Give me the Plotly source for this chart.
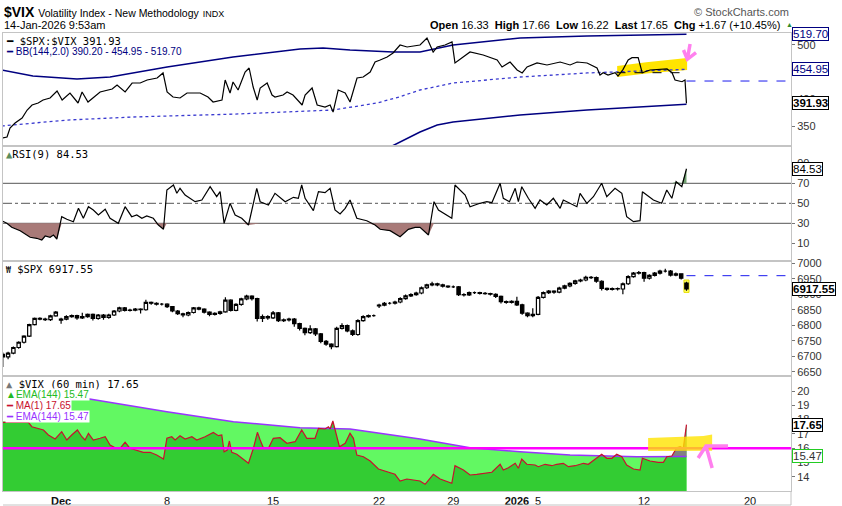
import plotly.graph_objects as go
from plotly.subplots import make_subplots

# x = trading days counted from 1-Dec-2025 (weekends / holidays removed)
tick_days = [0, 5, 10, 15, 18.5, 21.5, 22.5, 27.5, 32.5]
tick_text = ["<b>Dec</b>", "8", "15", "22", "29", "<b>2026</b>", "5", "12", "20"]
x_span = [-2.74, 34.43]

# --- panel 1: $SPX:$VIX ratio with Bollinger Bands (144, 2.0)
ratio_day = [-2.80, -2.55, -2.41, -2.17, -1.84, -1.60, -1.37, -1.08, -0.85, -0.52,
             -0.19, 0.05, 0.42, 0.80, 0.99, 1.27, 1.84, 2.41, 2.64, 3.02,
             3.35, 3.73, 4.06, 4.53, 4.81, 5.00, 5.28, 5.61, 5.94, 6.56,
             6.93, 7.17, 7.59, 7.74, 7.97, 8.11, 8.35, 8.68, 8.87, 9.06,
             9.25, 9.39, 9.72, 9.95, 10.09, 10.47, 10.66, 10.94, 11.37, 11.51,
             11.84, 12.08, 12.45, 12.69, 12.83, 13.07, 13.40, 13.63, 13.96, 14.25,
             14.58, 14.81, 15.05, 15.38, 15.66, 15.99, 16.32, 16.93, 17.26, 17.55,
             17.74, 18.11, 18.44, 18.58, 19.29, 19.91, 20.57, 20.80, 21.18, 21.51,
             21.75, 21.98, 22.45, 22.92, 23.54, 24.01, 24.34, 24.81, 25.28, 25.42,
             25.57, 25.80, 26.13, 26.27, 26.51, 26.75, 26.93, 27.22, 27.41, 27.78,
             28.58, 28.82, 28.96, 29.29, 29.43, 29.50]
ratio_val = [327.8, 329.6, 346.3, 355.6, 364.8, 379.6, 388.9, 392.6, 398.1, 401.9,
             414.8, 398.1, 411.1, 392.6, 413.0, 394.4, 413.0, 418.5, 425.9, 413.0,
             429.6, 429.6, 435.2, 438.9, 448.2, 413.0, 403.7, 401.9, 411.1, 411.1,
             403.7, 394.4, 398.1, 435.2, 411.1, 431.5, 416.7, 450.0, 457.4, 422.2,
             398.1, 420.4, 429.6, 407.4, 403.7, 407.4, 413.0, 407.4, 388.9, 407.4,
             420.4, 388.9, 385.2, 388.9, 375.9, 416.7, 411.1, 394.4, 438.9, 440.7,
             450.0, 468.5, 472.2, 477.8, 485.2, 500.0, 496.3, 500.0, 513.0, 487.0,
             496.3, 500.0, 505.6, 466.7, 487.0, 481.5, 472.2, 459.3, 468.5, 453.7,
             448.2, 459.3, 466.7, 463.0, 468.5, 463.0, 468.5, 466.7, 457.4, 444.4,
             448.7, 444.4, 448.7, 442.6, 455.0, 472.2, 476.5, 476.5, 448.7, 453.7,
             455.6, 448.7, 435.2, 432.0, 435.2, 391.93]
bb_upper_day = [-2.80, -1.33, 0.75, 2.31, 5.00, 8.11, 11.27, 12.36, 13.63, 15.66, 16.93, 18.49, 21.65, 24.81, 29.50]
bb_upper_val = [453.7, 442.6, 437.0, 440.7, 459.3, 477.8, 492.6, 494.4, 490.7, 487.0, 487.0, 500.0, 513.0, 516.7, 519.70]
bb_mid_day = [-2.80, 0.28, 3.40, 8.11, 12.83, 14.91, 15.99, 16.93, 18.49, 21.65, 24.81, 29.50]
bb_mid_val = [350.0, 361.0, 366.7, 372.0, 379.6, 392.6, 404.3, 416.7, 429.6, 440.7, 448.2, 454.95]
bb_lower_day = [-2.80, 0.28, 3.40, 8.11, 12.83, 14.91, 15.62, 16.93, 17.74, 18.49, 21.65, 24.81, 29.50]
bb_lower_val = [246.0, 284.0, 291.0, 266.0, 265.0, 297.0, 313.0, 338.9, 351.9, 357.4, 370.4, 379.6, 390.20]
ratio_prev_close = 433.3
ratio_marked_level = 448.7

# --- panel 2: RSI(9)
rsi_day = [-2.80, -2.56, -2.33, -1.93, -1.46, -1.15, -0.91, -0.75, -0.52, -0.36,
           -0.20, 0.03, 0.27, 0.58, 0.82, 1.05, 1.29, 1.52, 1.76, 2.08,
           2.31, 2.70, 3.02, 3.33, 3.57, 3.81, 4.04, 4.35, 4.59, 4.83,
           4.99, 5.30, 5.46, 5.61, 5.85, 6.32, 6.64, 7.03, 7.34, 7.50,
           7.69, 7.97, 8.21, 8.52, 8.84, 9.23, 9.39, 9.78, 10.09, 10.57,
           10.96, 11.19, 11.35, 11.51, 11.90, 12.14, 12.45, 12.69, 12.92, 13.16,
           13.40, 13.63, 13.95, 14.42, 14.81, 15.05, 15.52, 15.99, 16.38, 16.70,
           16.93, 17.33, 17.59, 17.80, 18.43, 18.58, 19.06, 19.29, 19.76, 20.08,
           20.32, 20.71, 20.86, 21.15, 21.42, 21.57, 21.73, 22.04, 22.36, 22.59,
           22.91, 23.22, 23.54, 23.69, 24.33, 24.48, 24.80, 25.11, 25.50, 25.74,
           26.13, 26.45, 26.68, 27.00, 27.31, 27.42, 27.94, 28.33, 28.57, 28.81,
           29.01, 29.28, 29.50]
rsi_val = [32.6, 30, 26, 22.6, 16, 15, 13.3, 17.3, 16, 18.3,
           14.3, 36.6, 34, 31.6, 45, 35, 46.6, 43.3, 38.3, 44,
           35, 30, 46.6, 36.6, 38.3, 35, 37.3, 35, 28.3, 24,
           63.3, 68.3, 60, 65, 58.3, 51.6, 53.3, 66.6, 56.6, 61.6,
           30, 50, 38.3, 35, 28.3, 65, 51.6, 48.3, 60, 51.6,
           56, 55, 68.3, 55, 42.6, 61.6, 60.6, 65, 43.3, 39.3,
           45, 53.3, 35, 32.6, 28.3, 24, 22.6, 16.6, 24, 26,
           26, 18.3, 51.6, 43.3, 35, 68.3, 58.3, 46.6, 50, 51.6,
           50.6, 70, 55, 51.6, 65, 51.6, 66.6, 55, 45, 53.3,
           48.3, 55, 45, 53.3, 46.6, 60, 50, 56.6, 70, 56.6,
           65, 60, 36.6, 31.6, 32.6, 61.6, 53.3, 50, 63.3, 55,
           71.6, 66.6, 84.53]
rsi_low, rsi_mid, rsi_high = 30, 50, 70

# --- panel 3: $SPX 60-minute candles (one every quarter day)
spx_open = [6706, 6698, 6710, 6728, 6745, 6765, 6802, 6822, 6820, 6818,
            6830, 6816, 6820, 6828, 6831, 6824, 6828, 6835, 6822, 6833,
            6825, 6833, 6846, 6856, 6848, 6849, 6852, 6850, 6874, 6871,
            6868, 6868, 6860, 6846, 6837, 6833, 6841, 6856, 6852, 6842,
            6835, 6838, 6843, 6881, 6848, 6867, 6885, 6894, 6886, 6822,
            6828, 6824, 6840, 6815, 6817, 6820, 6805, 6790, 6776, 6788,
            6772, 6748, 6739, 6731, 6790, 6799, 6782, 6770, 6815, 6828,
            6831, 6862, 6865, 6871, 6871, 6875, 6886, 6895, 6899, 6904,
            6921, 6930, 6934, 6930, 6926, 6924, 6924, 6899, 6898, 6905,
            6905, 6903, 6902, 6900, 6893, 6876, 6874, 6877, 6866, 6839,
            6831, 6835, 6890, 6905, 6910, 6907, 6920, 6927, 6935, 6943,
            6946, 6955, 6954, 6942, 6919, 6916, 6918, 6917, 6934, 6957,
            6968, 6970, 6952, 6961, 6968, 6975, 6975, 6962, 6966, 6936]
spx_high = [6712, 6714, 6731, 6748, 6768, 6805, 6825, 6826, 6824, 6834,
            6846, 6824, 6832, 6835, 6834, 6840, 6838, 6838, 6836, 6836,
            6837, 6849, 6860, 6859, 6853, 6856, 6855, 6882, 6877, 6874,
            6872, 6871, 6862, 6849, 6840, 6844, 6859, 6860, 6855, 6845,
            6842, 6847, 6890, 6884, 6871, 6889, 6898, 6897, 6889, 6835,
            6832, 6846, 6843, 6822, 6824, 6823, 6808, 6793, 6800, 6791,
            6775, 6752, 6742, 6795, 6806, 6802, 6786, 6819, 6832, 6835,
            6835, 6869, 6875, 6875, 6879, 6890, 6899, 6903, 6908, 6925,
            6934, 6940, 6937, 6934, 6929, 6928, 6927, 6903, 6909, 6909,
            6908, 6907, 6905, 6903, 6896, 6880, 6881, 6892, 6869, 6842,
            6855, 6894, 6909, 6914, 6913, 6924, 6931, 6939, 6947, 6950,
            6960, 6959, 6957, 6945, 6922, 6922, 6922, 6938, 6961, 6972,
            6975, 6973, 6965, 6972, 6979, 6982, 6978, 6970, 6968, 6940]
spx_low = [6665, 6690, 6706, 6724, 6741, 6762, 6799, 6816, 6814, 6814,
           6827, 6805, 6816, 6824, 6818, 6820, 6824, 6815, 6818, 6818,
           6821, 6830, 6842, 6844, 6844, 6845, 6838, 6847, 6866, 6864,
           6864, 6856, 6842, 6833, 6826, 6829, 6838, 6848, 6838, 6829,
           6831, 6834, 6840, 6844, 6845, 6863, 6881, 6880, 6812, 6810,
           6818, 6820, 6810, 6810, 6812, 6795, 6783, 6768, 6772, 6765,
           6742, 6734, 6722, 6728, 6786, 6777, 6765, 6766, 6811, 6824,
           6827, 6856, 6861, 6867, 6867, 6871, 6882, 6891, 6895, 6900,
           6917, 6926, 6926, 6922, 6920, 6920, 6894, 6893, 6894, 6901,
           6899, 6898, 6896, 6888, 6870, 6869, 6870, 6862, 6834, 6826,
           6826, 6832, 6886, 6901, 6902, 6903, 6916, 6923, 6931, 6939,
           6942, 6949, 6937, 6912, 6911, 6912, 6912, 6900, 6930, 6953,
           6964, 6940, 6948, 6957, 6964, 6970, 6957, 6958, 6948, 6911]
spx_close = [6698, 6710, 6728, 6745, 6765, 6802, 6822, 6820, 6818, 6830,
             6842, 6820, 6828, 6831, 6824, 6828, 6835, 6822, 6833, 6825,
             6833, 6846, 6856, 6848, 6849, 6852, 6850, 6874, 6871, 6868,
             6868, 6860, 6846, 6837, 6833, 6841, 6856, 6852, 6842, 6835,
             6838, 6843, 6881, 6848, 6867, 6885, 6894, 6886, 6822, 6828,
             6824, 6840, 6815, 6817, 6820, 6805, 6790, 6776, 6788, 6772,
             6748, 6739, 6731, 6790, 6799, 6782, 6770, 6815, 6828, 6831,
             6831, 6865, 6871, 6871, 6875, 6886, 6895, 6899, 6904, 6921,
             6930, 6934, 6930, 6926, 6924, 6924, 6899, 6898, 6905, 6905,
             6903, 6902, 6900, 6893, 6876, 6874, 6877, 6866, 6839, 6831,
             6835, 6890, 6905, 6910, 6907, 6920, 6927, 6935, 6943, 6946,
             6955, 6954, 6942, 6919, 6916, 6918, 6917, 6934, 6957, 6968,
             6970, 6952, 6961, 6968, 6975, 6975, 6962, 6966, 6952, 6917.55]
spx_first_day, spx_step = -2.75, 0.25
spx_prev_close = 6960

# --- panel 4: $VIX 60 min, EMA(144)
vix_day = [-2.74, -1.54, -1.38, -1.07, -0.83, -0.60, -0.28, 0.03, 0.27, 0.50,
           0.77, 0.98, 1.13, 1.29, 1.52, 1.84, 2.08, 2.31, 2.55, 2.78,
           3.02, 3.25, 3.57, 3.88, 4.20, 4.51, 4.83, 4.99, 5.22, 5.38,
           5.61, 5.85, 6.17, 6.40, 6.79, 7.18, 7.42, 7.58, 7.69, 7.84,
           7.94, 8.05, 8.29, 8.52, 8.84, 9.07, 9.26, 9.39, 9.54, 9.78,
           10.01, 10.33, 10.65, 11.04, 11.35, 11.59, 11.98, 12.14, 12.45, 12.61,
           12.69, 12.82, 12.92, 13.13, 13.40, 13.63, 13.79, 13.95, 14.26, 14.58,
           14.97, 15.44, 15.75, 15.99, 16.31, 16.93, 17.17, 17.56, 17.88, 18.43,
           18.58, 18.98, 19.29, 19.61, 20.08, 20.32, 20.71, 20.86, 21.10, 21.42,
           21.57, 21.73, 21.97, 22.36, 22.51, 22.83, 23.15, 23.38, 23.69, 23.93,
           24.25, 24.64, 24.87, 25.19, 25.50, 25.74, 25.98, 26.21, 26.45, 26.68,
           27.00, 27.31, 27.42, 27.78, 28.17, 28.41, 28.57, 28.81, 29.04, 29.20,
           29.35, 29.50]
vix_val = [17.81, 17.81, 17.50, 17.34, 17.27, 16.92, 16.64, 17.15, 16.57, 16.92,
           17.27, 16.80, 16.57, 17.04, 16.57, 16.69, 16.80, 16.22, 16.03, 15.99,
           16.41, 15.99, 15.87, 15.71, 15.71, 15.52, 15.24, 16.69, 16.80, 16.57,
           16.87, 16.64, 16.80, 16.57, 16.80, 17.10, 16.87, 16.92, 15.75, 15.87,
           16.50, 15.71, 15.57, 15.29, 14.94, 15.99, 17.11, 16.57, 16.03, 15.99,
           16.69, 16.73, 16.34, 16.45, 17.27, 16.69, 16.69, 17.39, 17.34, 17.50,
           17.34, 17.90, 17.27, 16.10, 16.34, 17.04, 16.69, 15.52, 15.40, 15.10,
           14.54, 14.31, 14.17, 13.70, 13.84, 13.70, 13.47, 14.17, 13.84, 13.54,
           14.77, 14.47, 14.12, 14.17, 14.24, 14.31, 14.87, 14.47, 14.63, 14.94,
           14.59, 15.24, 14.87, 14.82, 14.70, 14.87, 14.77, 14.87, 14.94, 14.70,
           14.77, 14.94, 14.87, 15.24, 15.57, 15.29, 15.29, 15.57, 15.40, 14.82,
           14.54, 14.47, 15.29, 15.10, 15.01, 15.01, 15.40, 15.45, 16.03, 16.10,
           15.99, 17.65]
ema_day = [-2.74, 1.13, 4.99, 8.13, 11.27, 13.63, 16.93, 19.29, 21.65, 24.01, 27.16, 28.57, 29.50]
ema_val = [19.95, 19.49, 18.55, 17.85, 17.43, 17.34, 16.64, 16.03, 15.75, 15.52, 15.40, 15.40, 15.42]
vix_marked_level = 16.0
vix_above_from = 28.57

NAVY = "#000080"
MONO = "DejaVu Sans Mono"
SANS = "Liberation Sans, Arial, sans-serif"
NARROW = "Liberation Sans Narrow, Arial Narrow, Liberation Sans, sans-serif"
PINK = "#ff80ee"
YELLOW = "#ffe400"

spx_day = [round(spx_first_day + spx_step * i, 2) for i in range(len(spx_close))]

fig = make_subplots(rows=4, cols=1, shared_xaxes=True, vertical_spacing=0,
                    row_heights=[113, 115, 115, 115])

# panel 1
fig.add_trace(go.Scatter(x=bb_lower_day, y=bb_lower_val, mode="lines",
                         line=dict(color=NAVY, width=1.5)), 1, 1)
fig.add_trace(go.Scatter(x=bb_upper_day, y=bb_upper_val, mode="lines",
                         line=dict(color=NAVY, width=1.5)), 1, 1)
fig.add_trace(go.Scatter(x=bb_mid_day, y=bb_mid_val, mode="lines",
                         line=dict(color="#3a3ad0", width=1.3, dash="dot")), 1, 1)
fig.add_trace(go.Scatter(x=ratio_day, y=ratio_val, mode="lines",
                         line=dict(color="black", width=1.2)), 1, 1)

# panel 2: fills below 30 / above 70, then the RSI line
rsi_floor = [min(v, rsi_low) for v in rsi_val]
rsi_ceiling = [max(v, rsi_high) for v in rsi_val]
fig.add_trace(go.Scatter(x=rsi_day, y=[rsi_low] * len(rsi_day), mode="lines",
                         line=dict(width=0)), 2, 1)
fig.add_trace(go.Scatter(x=rsi_day, y=rsi_floor, mode="lines", line=dict(width=0),
                         fill="tonexty", fillcolor="#a87a78"), 2, 1)
fig.add_trace(go.Scatter(x=rsi_day, y=[rsi_high] * len(rsi_day), mode="lines",
                         line=dict(width=0)), 2, 1)
fig.add_trace(go.Scatter(x=rsi_day, y=rsi_ceiling, mode="lines", line=dict(width=0),
                         fill="tonexty", fillcolor="#6f9f6f"), 2, 1)
fig.add_trace(go.Scatter(x=rsi_day, y=rsi_val, mode="lines",
                         line=dict(color="black", width=1.2)), 2, 1)

# panel 3
fig.add_trace(go.Candlestick(x=spx_day, open=spx_open, high=spx_high, low=spx_low,
                             close=spx_close, whiskerwidth=0,
                             increasing=dict(line=dict(color="black", width=1.2), fillcolor="white"),
                             decreasing=dict(line=dict(color="black", width=1.2), fillcolor="black")),
              3, 1)

# panel 4: EMA mountain, VIX mountain, grey where VIX is above its EMA
fig.add_trace(go.Scatter(x=ema_day, y=ema_val, mode="lines", line=dict(width=0),
                         fill="tozeroy", fillcolor="#62f862"), 4, 1)
fig.add_trace(go.Scatter(x=vix_day, y=vix_val, mode="lines", line=dict(width=0),
                         fill="tozeroy", fillcolor="#33cc33"), 4, 1)
tail_x = [d for d in vix_day if d >= vix_above_from]
tail_y = [v for d, v in zip(vix_day, vix_val) if d >= vix_above_from]
ema_tail = [(d, v) for d, v in zip(ema_day, ema_val) if d >= vix_above_from][::-1]
fig.add_trace(go.Scatter(x=tail_x + [d for d, _ in ema_tail],
                         y=tail_y + [v for _, v in ema_tail],
                         mode="lines", line=dict(width=0), fill="toself",
                         fillcolor="#828282"), 4, 1)
fig.add_trace(go.Scatter(x=ema_day, y=ema_val, mode="lines",
                         line=dict(color="#9933ff", width=1.5)), 4, 1)
fig.add_trace(go.Scatter(x=vix_day, y=vix_val, mode="lines",
                         line=dict(color="#c8102e", width=1.2)), 4, 1)

fig.update_layout(
    width=842, height=506,
    margin=dict(l=3, r=51, t=33, b=15, autoexpand=False),
    paper_bgcolor="white", plot_bgcolor="white",
    showlegend=False, hovermode=False, boxgap=0.1,
    font=dict(family=SANS, size=11, color="#222"),
)
fig.update_xaxes(range=x_span, showgrid=False, zeroline=False, showline=True,
                 mirror=True, linecolor="#c4c4c4", tickvals=tick_days,
                 ticktext=tick_text, ticks="", rangeslider_visible=False,
                 tickfont=dict(size=11, color="#111", family=SANS))
fig.update_yaxes(side="right", showgrid=False, zeroline=False, showline=True,
                 mirror=True, linecolor="#c4c4c4", ticks="outside", ticklen=3,
                 tickcolor="#777", tickfont=dict(size=11, color="#333", family=NARROW))
fig.update_yaxes(range=[313, 522.2], tickvals=[350, 400, 450, 500], row=1, col=1)
fig.update_yaxes(range=[-7.7, 107.3], tickvals=[10, 30, 50, 70, 90], row=2, col=1)
fig.update_yaxes(range=[6636, 7007.4], tickvals=list(range(6650, 7001, 50)), row=3, col=1)
fig.update_yaxes(range=[13.0, 21.05], tickvals=list(range(14, 21)), row=4, col=1)

# reference lines, highlights and hand-drawn marks
shapes = []
for lvl, dash in [(rsi_high, "solid"), (rsi_mid, "dashdot"), (rsi_low, "solid")]:
    shapes.append(dict(type="line", xref="paper", x0=0, x1=1, yref="y2", y0=lvl, y1=lvl,
                       line=dict(color="#777", width=1.2, dash=dash), layer="below"))
shapes.append(dict(type="path", xref="x", yref="y", layer="below",
                   path="M 26.23,461.1 L 27.6,468 L 29.53,475.9 L 29.53,453.7 L 27.6,447 L 26.23,440.7 Z",
                   fillcolor=YELLOW, line=dict(width=0)))
shapes.append(dict(type="line", xref="x", yref="y", x0=26.2, x1=29.3,
                   y0=ratio_marked_level, y1=ratio_marked_level,
                   line=dict(color="black", width=1, dash="dash")))
shapes.append(dict(type="line", xref="x", yref="y", x0=ratio_day[-1], x1=x_span[1],
                   y0=ratio_prev_close, y1=ratio_prev_close,
                   line=dict(color="#1a1aee", width=1, dash="dash")))
shapes.append(dict(type="path", xref="x", yref="y",
                   path="M 29.67,501.9 L 29.54,473.5 M 29.36,490.7 L 29.54,473.5 L 29.95,485.8",
                   line=dict(color=PINK, width=3.5)))
shapes.append(dict(type="rect", xref="x3", yref="y3", x0=29.38, x1=29.62, y0=6906, y1=6946,
                   fillcolor="#ffff66", line=dict(color="#e8e000", width=1), layer="below"))
shapes.append(dict(type="line", xref="x3", yref="y3", x0=spx_day[-1], x1=x_span[1],
                   y0=spx_prev_close, y1=spx_prev_close,
                   line=dict(color="#1a1aee", width=1, dash="dash")))
shapes.append(dict(type="line", xref="paper", x0=0, x1=1, yref="y4",
                   y0=vix_marked_level, y1=vix_marked_level,
                   line=dict(color="#ff00ff", width=2.5)))
shapes.append(dict(type="path", xref="x4", yref="y4", opacity=0.8,
                   path="M 27.69,16.71 L 30.3,16.85 L 30.71,16.95 L 30.71,15.82 L 27.69,15.80 Z",
                   fillcolor=YELLOW, line=dict(width=0)))
shapes.append(dict(type="path", xref="x4", yref="y4",
                   path="M 30.05,15.31 L 30.42,16.15 L 31.46,16.15 M 30.42,16.15 L 30.71,14.61",
                   line=dict(color=PINK, width=3.5)))
shapes.append(dict(type="rect", xref="x4", yref="y4", x0=x_span[0], x1=0.4, y0=17.88, y1=20.3,
                   fillcolor="white", line=dict(width=0)))
shapes.append(dict(type="line", xref="paper", yref="paper", x0=0, x1=1, y0=-0.0306, y1=-0.0306,
                   line=dict(color="#c4c4c4", width=1)))
shapes.append(dict(type="line", xref="paper", yref="paper", x0=1, x1=1, y0=-0.0306, y1=0,
                   line=dict(color="#c4c4c4", width=1)))
fig.update_layout(shapes=shapes)


def legend(row, line_no, text, color, family=SANS, size=10):
    yref = "y domain" if row == 1 else f"y{row} domain"
    fig.add_annotation(xref="paper", x=0, xanchor="left", xshift=2,
                       yref=yref, y=1, yanchor="top", yshift=-1 - 11 * line_no,
                       text=text, showarrow=False, bgcolor="white", borderpad=0,
                       font=dict(family=family, size=size, color=color))


def value_box(row, y, text, color, border):
    yref = "y" if row == 1 else f"y{row}"
    fig.add_annotation(xref="paper", x=1, xanchor="left", xshift=1, yref=yref, y=y,
                       text=text, showarrow=False, bgcolor="white", bordercolor=border,
                       borderwidth=1, borderpad=0,
                       font=dict(family=SANS, size=11.5, color=color))


legend(1, 0, "━ $SPX:$VIX 391.93", "black", MONO, 10.5)
legend(1, 1, "━ BB(144,2.0) 390.20 - 454.95 - 519.70", NAVY)
legend(2, 0, "<span style='color:#5b8c5b'>▲</span>RSI(9) 84.53", "black", MONO, 10.5)
legend(3, 0, "<span style='font-size:8px'>₩</span> $SPX 6917.55", "black", MONO, 10.5)
legend(4, 0, "<span style='color:#777'>▲</span> $VIX (60 min) 17.65", "black", MONO, 10.5)
legend(4, 1, "▲EMA(144) 15.47", "#22bb22")
legend(4, 2, "━ MA(1) 17.65", "#c8102e")
legend(4, 3, "━ EMA(144) 15.47", "#9933ff")

value_box(1, 519.70, "519.70", NAVY, NAVY)
value_box(1, 454.95, "454.95", NAVY, NAVY)
value_box(1, 391.93, "<b>391.93</b>", "black", "black")
value_box(2, 84.53, "84.53", "black", "black")
value_box(3, 6917.55, "<b>6917.55</b>", "black", "black")
value_box(4, 17.65, "<b>17.65</b>", "black", "black")
value_box(4, 15.47, "15.47", "#333", "#22cc22")

# header
fig.add_annotation(xref="paper", x=0, xanchor="left", xshift=-1, yref="paper", y=1.0459,
                   yanchor="middle", showarrow=False,
                   text="<b>$VIX</b> <span style='font-size:10.5px'>Volatility Index - New Methodology</span>"
                        " <span style='font-size:9px'>INDX</span>",
                   font=dict(family=SANS, size=14, color="black"))
fig.add_annotation(xref="paper", x=0, xanchor="left", xshift=-1, yref="paper", y=1.0175,
                   yanchor="middle", showarrow=False, text="14-Jan-2026 9:53am",
                   font=dict(family=SANS, size=11, color="black"))
fig.add_annotation(xref="paper", x=1, xanchor="right", yref="paper", y=1.0459,
                   yanchor="middle", showarrow=False, text="© StockCharts.com",
                   font=dict(family=SANS, size=11, color="#555"))
fig.add_annotation(xref="paper", x=0.9886, xanchor="right", yref="paper", y=1.0175,
                   yanchor="middle", showarrow=False,
                   text="<b>Open</b> 16.33  <b>High</b> 17.66  <b>Low</b> 16.22  "
                        "<b>Last</b> 17.65  <b>Chg</b> +1.67 (+10.45%)",
                   font=dict(family=SANS, size=11, color="black"))
fig.add_annotation(xref="paper", x=0.9886, xanchor="left", xshift=2, yref="paper", y=1.0175,
                   yanchor="middle", showarrow=False, text="▲",
                   font=dict(family=SANS, size=7, color="#2e8b2e"))

# page body has an 8px default margin; remove it so the figure fills the window
fig.write_html("out.html", config={"displayModeBar": False},
               post_script="document.body.style.margin='0';")
